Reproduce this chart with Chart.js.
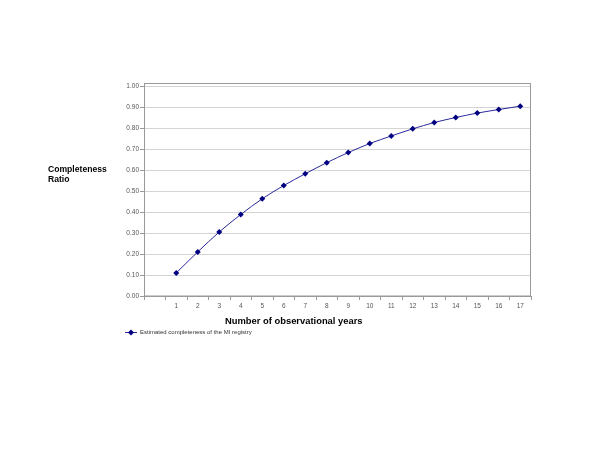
<!DOCTYPE html>
<html>
<head>
<meta charset="utf-8">
<script src="https://cdn.jsdelivr.net/npm/chart.js@4/dist/chart.umd.min.js"></script>
<style>
  html, body { margin: 0; padding: 0; background: #fff; }
  #wrap { width: 600px; height: 464px; position: relative; }
</style>
</head>
<body>
<div id="wrap"><canvas id="chart"></canvas></div>
<script>
var years = ['', '1', '2', '3', '4', '5', '6', '7', '8', '9', '10', '11', '12', '13', '14', '15', '16', '17'];
var completeness = [null, 0.110, 0.210, 0.305, 0.388, 0.463, 0.526, 0.582, 0.635, 0.683, 0.726, 0.762, 0.796, 0.826, 0.850, 0.871, 0.888, 0.904];
var seriesName = 'Estimated completeness of the MI registry';
var yTitle = ['Completeness', 'Ratio'];
var xTitle = 'Number of observational years';

Chart.defaults.font.family = '"Liberation Sans", Arial, sans-serif';

// titles, plot frame and legend drawn by hand to match the original placement
var extras = {
    id: 'extras',
    afterDraw: function (chart) {
        var c = chart.ctx;
        var a = chart.chartArea;
        c.save();
        c.strokeStyle = '#999999';
        c.lineWidth = 1;
        c.strokeRect(a.left + 0.5, 83.5, a.right - a.left - 1, a.bottom - 83.5);

        c.fillStyle = '#000';
        c.font = 'bold 8.6px "Liberation Sans", Arial, sans-serif';
        c.textBaseline = 'middle';
        c.textAlign = 'left';
        c.fillText(yTitle[0], 48, 170);
        c.fillText(yTitle[1], 48, 180);

        c.font = 'bold 9.4px "Liberation Sans", Arial, sans-serif';
        c.fillText(xTitle, 225, 321);

        var ds = chart.data.datasets[0];
        c.strokeStyle = ds.borderColor;
        c.beginPath();
        c.moveTo(125, 332.5);
        c.lineTo(137, 332.5);
        c.stroke();
        c.fillStyle = ds.pointBackgroundColor;
        c.beginPath();
        c.moveTo(131, 329.5);
        c.lineTo(134, 332.5);
        c.lineTo(131, 335.5);
        c.lineTo(128, 332.5);
        c.closePath();
        c.fill();
        c.fillStyle = '#333';
        c.font = '6px "Liberation Sans", Arial, sans-serif';
        c.fillText(ds.label, 140, 332.5);
        c.restore();
    }
};

var ctx = document.getElementById('chart');
var myChart = new Chart(ctx, {
    type: 'line',
    data: {
        labels: years,
        datasets: [{
            label: seriesName,
            data: completeness,
            borderColor: '#2a2a9a',
            borderWidth: 1,
            pointStyle: 'rectRot',
            pointRadius: 3,
            pointBackgroundColor: '#000080',
            pointBorderColor: '#000080',
            pointBorderWidth: 0,
            cubicInterpolationMode: 'monotone',
            fill: false
        }]
    },
    options: {
        responsive: true,
        maintainAspectRatio: false,
        animation: false,
        layout: { padding: { top: 86, right: 69, bottom: 128, left: 0 } },
        plugins: {
            legend: { display: false },
            tooltip: { enabled: false }
        },
        scales: {
            x: {
                type: 'category',
                offset: true,
                afterFit: function (scale) { scale.height = 40; },
                grid: {
                    offset: true,
                    drawOnChartArea: false,
                    tickLength: 4,
                    color: '#999999'
                },
                border: { color: '#999999' },
                ticks: {
                    color: '#555',
                    font: { size: 6.5 },
                    padding: 2,
                    maxRotation: 0,
                    autoSkip: false
                }
            },
            y: {
                min: 0,
                max: 1,
                afterFit: function (scale) { scale.width = 144; },
                grid: {
                    color: '#d4d4d4',
                    tickLength: 4,
                    tickColor: '#999999'
                },
                border: { color: '#999999' },
                ticks: {
                    stepSize: 0.1,
                    color: '#555',
                    font: { size: 6.5 },
                    padding: 1,
                    callback: function (v) { return v.toFixed(2); }
                }
            }
        }
    },
    plugins: [extras]
});
</script>
</body>
</html>
